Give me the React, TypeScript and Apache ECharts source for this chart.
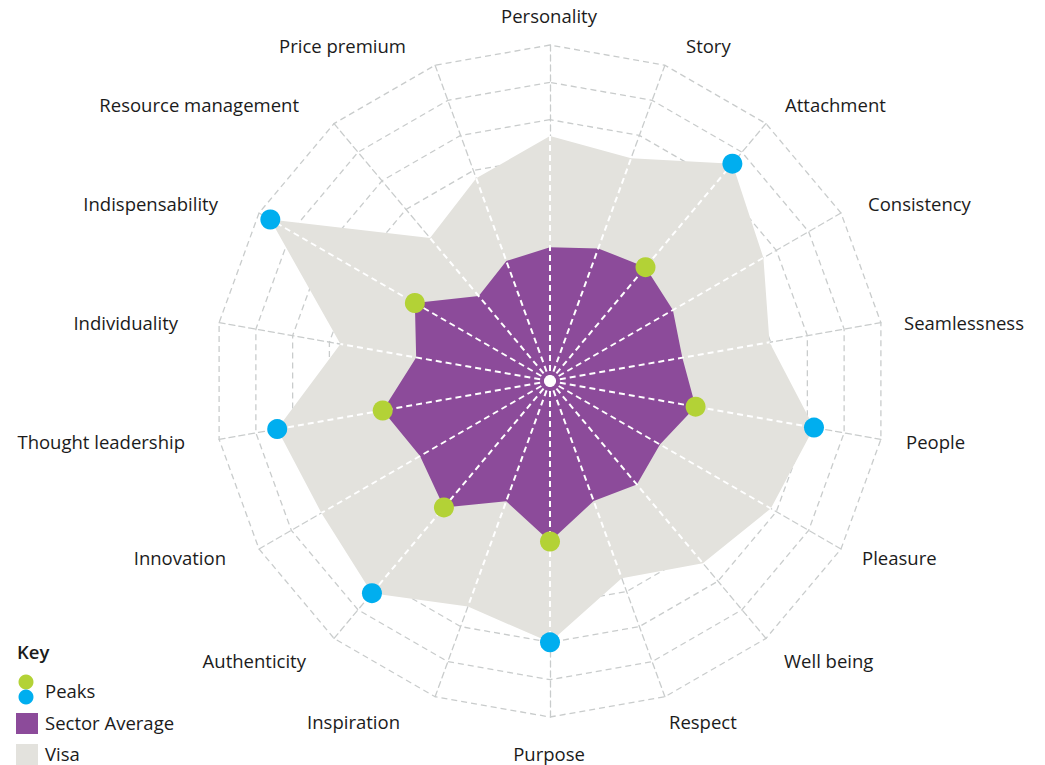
import React, { useEffect, useRef } from 'react';
import * as echarts from 'echarts';

// Categories in clockwise order starting at the top
const categories = [
  'Personality', 'Story', 'Attachment', 'Consistency', 'Seamlessness', 'People',
  'Pleasure', 'Well being', 'Respect', 'Purpose', 'Inspiration', 'Authenticity',
  'Innovation', 'Thought leadership', 'Individuality', 'Indispensability',
  'Resource management', 'Price premium',
];
const visaValues = [6.56, 6.35, 7.6, 6.6, 5.97, 7.18, 6.83, 6.37, 5.62, 7.0, 6.43, 7.42, 7.07, 7.42, 5.7, 8.65, 5.0, 5.78];
const sectorValues = [3.58, 3.78, 3.98, 3.8, 3.6, 3.96, 3.4, 3.62, 3.42, 4.3, 3.43, 4.42, 4.02, 4.55, 3.64, 4.18, 2.97, 3.42];
const peakIndices = [2, 5, 9, 11, 13, 15];
const scaleMax = 9;
const ringCount = 9;
const legendItems = ['Peaks', 'Sector Average', 'Visa'];

// layout / style
const CX = 550;
const CY = 381;
const R = 336;
const FONT = '18.5px "Open Sans"';
const TEXT = '#1b1b1b';
const PURPLE = '#8c4b9a';
const GREY_FILL = '#e3e2dd';
const GREEN = '#b3d236';
const BLUE = '#00aeef';
const GRID = '#c9cccc';

// label anchor per category: [x, y, align]
const labelLayout: [number, number, string][] = [
  [549, 15, 'center'],
  [686, 45, 'left'],
  [785, 104, 'left'],
  [868, 203, 'left'],
  [904, 322, 'left'],
  [906, 441, 'left'],
  [862, 557, 'left'],
  [784, 660, 'left'],
  [669, 721, 'left'],
  [549, 753, 'center'],
  [400, 721, 'right'],
  [306, 660, 'right'],
  [226, 557, 'right'],
  [185, 441, 'right'],
  [178, 322, 'right'],
  [218, 203, 'right'],
  [299, 104, 'right'],
  [406, 45, 'right'],
];

export default function App() {
  const ref = useRef<HTMLDivElement>(null);
  useEffect(() => {
    if (!ref.current) return;
    const chart = echarts.init(ref.current, null, { renderer: 'svg' });
    const n = categories.length;
    const step = 360 / n;
    // ECharts radar lays indicators counter-clockwise: reorder
    const order = [0, ...Array.from({ length: n - 1 }, (_, k) => n - 1 - k)];

    const labelGraphics = categories.map((c, i) => ({
      type: 'text',
      x: labelLayout[i][0],
      y: labelLayout[i][1],
      style: {
        text: c,
        fill: TEXT,
        font: FONT,
        align: labelLayout[i][2],
        verticalAlign: 'middle',
        textAlign: labelLayout[i][2],
        textVerticalAlign: 'middle',
      },
    }));

    const legendGraphics: any[] = [
      { type: 'text', x: 17, y: 651, style: { text: 'Key', fill: TEXT, font: '600 18.5px "Open Sans"', align: 'left', verticalAlign: 'middle', textAlign: 'left', textVerticalAlign: 'middle' } },
      { type: 'circle', shape: { cx: 26, cy: 682, r: 7.5 }, style: { fill: GREEN } },
      { type: 'circle', shape: { cx: 26, cy: 697, r: 7.5 }, style: { fill: BLUE } },
      { type: 'rect', shape: { x: 16, y: 713, width: 22, height: 21 }, style: { fill: PURPLE } },
      { type: 'rect', shape: { x: 16, y: 744, width: 22, height: 21 }, style: { fill: GREY_FILL } },
      ...legendItems.map((t, k) => ({
        type: 'text', x: 45, y: [690, 722, 753][k],
        style: { text: t, fill: TEXT, font: FONT, align: 'left', verticalAlign: 'middle', textAlign: 'left', textVerticalAlign: 'middle' },
      })),
    ];

    chart.setOption({
      animation: false,
      backgroundColor: '#ffffff',
      radar: {
        center: [CX, CY],
        radius: R,
        startAngle: 90,
        splitNumber: ringCount,
        shape: 'polygon',
        indicator: order.map((i) => ({ name: categories[i], max: scaleMax, min: 0 })),
        axisName: { show: false },
        splitArea: { show: false },
        splitLine: { lineStyle: { color: GRID, width: 1.3, type: [6, 4] } },
        axisLine: { lineStyle: { color: GRID, width: 1.3, type: [6, 4] } },
        axisTick: { show: false },
        axisLabel: { show: false },
      },
      polar: { center: [CX, CY], radius: R },
      angleAxis: { type: 'value', min: 0, max: 360, startAngle: 90, clockwise: true, show: false },
      radiusAxis: { type: 'value', min: 0, max: scaleMax, show: false },
      series: [
        {
          type: 'radar',
          z: 2,
          symbol: 'none',
          lineStyle: { width: 0 },
          data: [
            { name: 'Visa', value: order.map((i) => visaValues[i]), areaStyle: { color: GREY_FILL, opacity: 1 }, lineStyle: { width: 0, color: GREY_FILL } },
            { name: 'Sector Average', value: order.map((i) => sectorValues[i]), areaStyle: { color: PURPLE, opacity: 1 }, lineStyle: { width: 0, color: PURPLE } },
          ],
        },
        {
          type: 'custom',
          coordinateSystem: 'polar',
          z: 3,
          data: visaValues.map((v, i) => [v, i * step]),
          renderItem: (params: any, api: any) => {
            const r = api.value(0);
            const a = api.value(1);
            const p0 = api.coord([0, a]);
            const p1 = api.coord([r, a]);
            return {
              type: 'line',
              shape: { x1: p0[0], y1: p0[1], x2: p1[0], y2: p1[1] },
              style: { stroke: '#ffffff', lineWidth: 2, lineDash: [6, 4] },
            };
          },
        },
        {
          type: 'scatter',
          coordinateSystem: 'polar',
          z: 4,
          symbolSize: 20,
          itemStyle: { color: BLUE, opacity: 1 },
          data: peakIndices.map((i) => [visaValues[i], i * step]),
        },
        {
          type: 'scatter',
          coordinateSystem: 'polar',
          z: 4,
          symbolSize: 20,
          itemStyle: { color: GREEN, opacity: 1 },
          data: peakIndices.map((i) => [sectorValues[i], i * step]),
        },
        {
          type: 'scatter',
          coordinateSystem: 'polar',
          z: 5,
          symbolSize: 11,
          itemStyle: { color: '#ffffff', opacity: 1 },
          data: [[0, 0]],
        },
      ],
      graphic: [...labelGraphics, ...legendGraphics],
    });
    return () => chart.dispose();
  }, []);
  return (
    <div
      ref={ref}
      style={{ position: 'absolute', left: 0, top: 0, width: 1045, height: 765 }}
    />
  );
}
